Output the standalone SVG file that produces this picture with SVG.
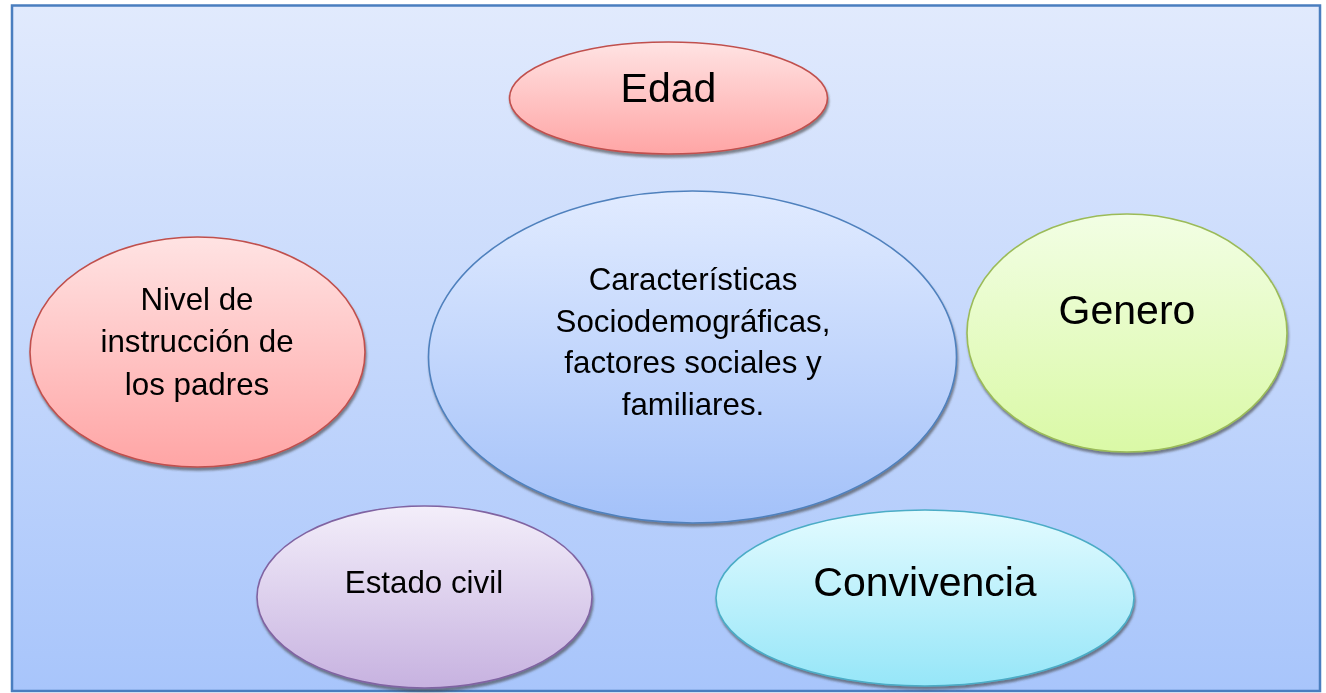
<svg xmlns="http://www.w3.org/2000/svg" width="1326" height="693" viewBox="0 0 1326 693">
<style>
.t{font-family:"Liberation Sans",Arial,sans-serif;fill:#000;text-anchor:middle}
.big{font-size:41px}
.mid{font-size:31.3px}
.node{filter:url(#sh)}
</style>
<defs>
<linearGradient id="bg" x1="0" y1="0" x2="0" y2="1"><stop offset="0" stop-color="#e1eafd"/><stop offset="1" stop-color="#a8c5fb"/></linearGradient>
<linearGradient id="gRed" x1="0" y1="0" x2="0" y2="1"><stop offset="0" stop-color="#ffe3e3"/><stop offset="1" stop-color="#ffa5a5"/></linearGradient>
<linearGradient id="gGreen" x1="0" y1="0" x2="0" y2="1"><stop offset="0" stop-color="#f2fee4"/><stop offset="1" stop-color="#daf9a6"/></linearGradient>
<linearGradient id="gPurple" x1="0" y1="0" x2="0" y2="1"><stop offset="0" stop-color="#f3eefa"/><stop offset="1" stop-color="#c7b2e0"/></linearGradient>
<linearGradient id="gCyan" x1="0" y1="0" x2="0" y2="1"><stop offset="0" stop-color="#e3fbff"/><stop offset="1" stop-color="#96e6f8"/></linearGradient>
<linearGradient id="gBlue" x1="0" y1="0" x2="0" y2="1"><stop offset="0" stop-color="#e1ebff"/><stop offset="1" stop-color="#a3c1f9"/></linearGradient>
<filter id="sh" x="-10%" y="-10%" width="120%" height="130%"><feDropShadow dx="1" dy="3" stdDeviation="1" flood-color="#404040" flood-opacity="0.6"/></filter>
</defs>
<rect x="12" y="5.5" width="1308" height="685.5" fill="url(#bg)" stroke="#4a7ebf" stroke-width="2.5"/>
<g id="connectors"></g>
<g id="edad" class="node">
<ellipse cx="668.5" cy="98" rx="159" ry="56" fill="url(#gRed)" stroke="#c0504d" stroke-width="1.6"/>
<text class="t big" x="668.5" y="102">Edad</text>
</g>
<g id="centro" class="node">
<ellipse cx="692.5" cy="357" rx="264" ry="166" fill="url(#gBlue)" stroke="#4f81bd" stroke-width="1.6"/>
<text class="t mid" x="693" y="290">Características</text>
<text class="t mid" x="693" y="332">Sociodemográficas,</text>
<text class="t mid" x="693" y="373">factores sociales y</text>
<text class="t mid" x="693" y="415">familiares.</text>
</g>
<g id="nivel" class="node">
<ellipse cx="197.5" cy="352" rx="167.5" ry="115" fill="url(#gRed)" stroke="#c0504d" stroke-width="1.6"/>
<text class="t mid" x="197" y="310">Nivel de</text>
<text class="t mid" x="197" y="352">instrucción de</text>
<text class="t mid" x="197" y="395">los padres</text>
</g>
<g id="genero" class="node">
<ellipse cx="1127" cy="333" rx="160" ry="119" fill="url(#gGreen)" stroke="#9bbb59" stroke-width="1.6"/>
<text class="t big" x="1127" y="324">Genero</text>
</g>
<g id="estado" class="node">
<ellipse cx="424.5" cy="597" rx="167.5" ry="91" fill="url(#gPurple)" stroke="#8064a2" stroke-width="1.6"/>
<text class="t mid" x="424" y="593">Estado civil</text>
</g>
<g id="convivencia" class="node">
<ellipse cx="925" cy="598" rx="209" ry="88" fill="url(#gCyan)" stroke="#4bacc6" stroke-width="1.6"/>
<text class="t big" x="925" y="596">Convivencia</text>
</g>
</svg>
